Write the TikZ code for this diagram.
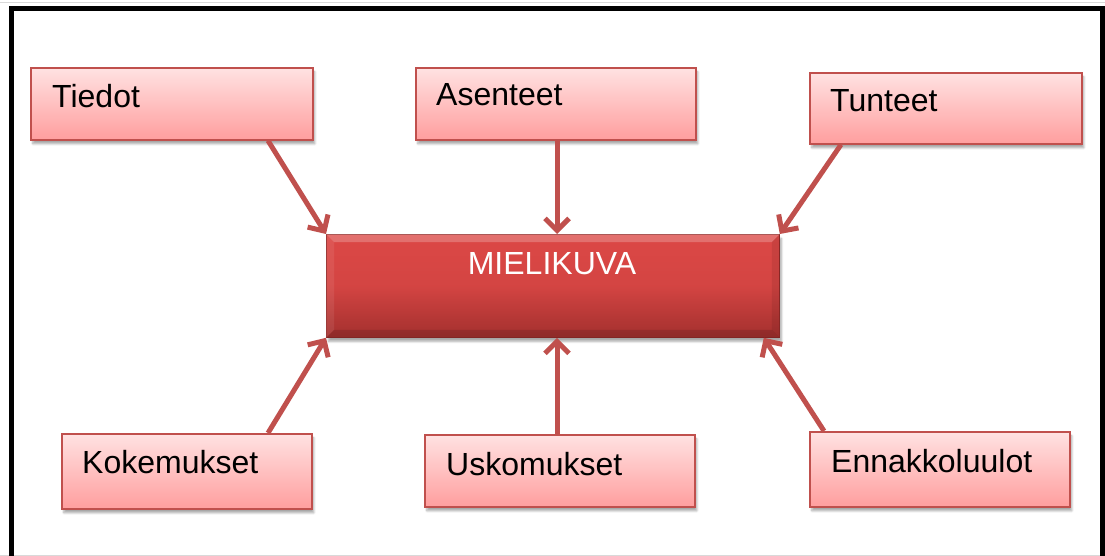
\documentclass[tikz,border=0pt]{standalone}
\usepackage{fontspec}
\setmainfont{Liberation Sans}
\usetikzlibrary{arrows.meta,shadows.blur,calc}

\definecolor{edgered}{HTML}{C0504D}
\definecolor{pinktop}{HTML}{FFE2E2}
\definecolor{pinkbot}{HTML}{FF9E9E}
\definecolor{coretop}{HTML}{DC4846}
\definecolor{corebot}{HTML}{A3302E}

\tikzset{
  pinkbox/.style={draw=edgered, line width=1.6pt, inner sep=0pt,
    anchor=north west, top color=pinktop, bottom color=pinkbot,
    blur shadow={shadow xshift=2pt, shadow yshift=-4pt,
      shadow blur steps=6, shadow opacity=35}},
  corebox/.style={draw=corebot!90!black, line width=0.8pt, inner sep=0pt,
    anchor=north west, top color=coretop, bottom color=corebot,
    middle color=coretop!85!corebot,
    blur shadow={shadow xshift=2pt, shadow yshift=-4pt,
      shadow blur steps=6, shadow opacity=35}},
  lbl/.style={inner sep=0pt, anchor=base west, font=\fontsize{32}{38}\selectfont},
  feed/.style={draw=edgered, line width=5pt,
    -{Straight Barb[length=12pt, width=24pt, line width=5pt]}}
}

\begin{document}
\begin{tikzpicture}[x=1pt, y=-1pt]
  \useasboundingbox (0,0) rectangle (1105,556);

  % page frame
  \draw[gray!30, line width=1pt] (0,3) -- (1105,3);
  \draw[gray!30, line width=1pt] (0,555) -- (1105,555);
  \draw[black, line width=5pt] (11.5,556) -- (11.5,8.5) -- (1102.5,8.5) -- (1102.5,556);

  % input boxes
  \node[pinkbox, minimum width=282pt, minimum height=72pt] (tiedot) at (30,67) {};
  \node[pinkbox, minimum width=280pt, minimum height=72pt] (asenteet) at (415,67) {};
  \node[pinkbox, minimum width=272pt, minimum height=71pt] (tunteet) at (809,72) {};
  \node[pinkbox, minimum width=250pt, minimum height=75pt] (kokemukset) at (61,433) {};
  \node[pinkbox, minimum width=270pt, minimum height=72pt] (uskomukset) at (424,434) {};
  \node[pinkbox, minimum width=260pt, minimum height=75pt] (ennakko) at (809,431) {};

  \node[lbl] (tiedot-t) at (52,108) {Tiedot};
  \node[lbl] (asenteet-t) at (436,106) {Asenteet};
  \node[lbl] (tunteet-t) at (830,112) {Tunteet};
  \node[lbl] (kokemukset-t) at (82,473) {Kokemukset};
  \node[lbl] (uskomukset-t) at (446,475) {Uskomukset};
  \node[lbl] (ennakko-t) at (831,472) {Ennakkoluulot};

  % central box with bevelled edges
  \node[corebox, minimum width=453pt, minimum height=103pt] (mieli) at (326,234) {};
  \fill[white, opacity=0.22] (mieli.north west) -- (mieli.north east)
    -- ([xshift=-8pt, yshift=-8pt]mieli.north east) -- ([xshift=8pt, yshift=-8pt]mieli.north west) -- cycle;
  \fill[black, opacity=0.12] (mieli.south west) -- (mieli.south east)
    -- ([xshift=-8pt, yshift=8pt]mieli.south east) -- ([xshift=8pt, yshift=8pt]mieli.south west) -- cycle;
  \fill[white, opacity=0.08] (mieli.north west) -- (mieli.south west)
    -- ([xshift=8pt, yshift=8pt]mieli.south west) -- ([xshift=8pt, yshift=-8pt]mieli.north west) -- cycle;
  \fill[black, opacity=0.08] (mieli.north east) -- (mieli.south east)
    -- ([xshift=-8pt, yshift=8pt]mieli.south east) -- ([xshift=-8pt, yshift=-8pt]mieli.north east) -- cycle;
  \node[lbl, anchor=base, text=white] (mieli-t) at (552,274) {MIELIKUVA};

  % connectors into the central box
  \draw[feed] ([xshift=238pt]tiedot.south west) -- (mieli.north west);
  \draw[feed] ([xshift=142pt]asenteet.south west) -- ([xshift=231pt]mieli.north west);
  \draw[feed] ([xshift=32pt]tunteet.south west) -- (mieli.north east);
  \draw[feed] ([xshift=207pt]kokemukset.north west) -- (mieli.south west);
  \draw[feed] ([xshift=133pt]uskomukset.north west) -- ([xshift=231pt]mieli.south west);
  \draw[feed] ([xshift=15pt]ennakko.north west) -- ([xshift=-16pt]mieli.south east);
\end{tikzpicture}
\end{document}
